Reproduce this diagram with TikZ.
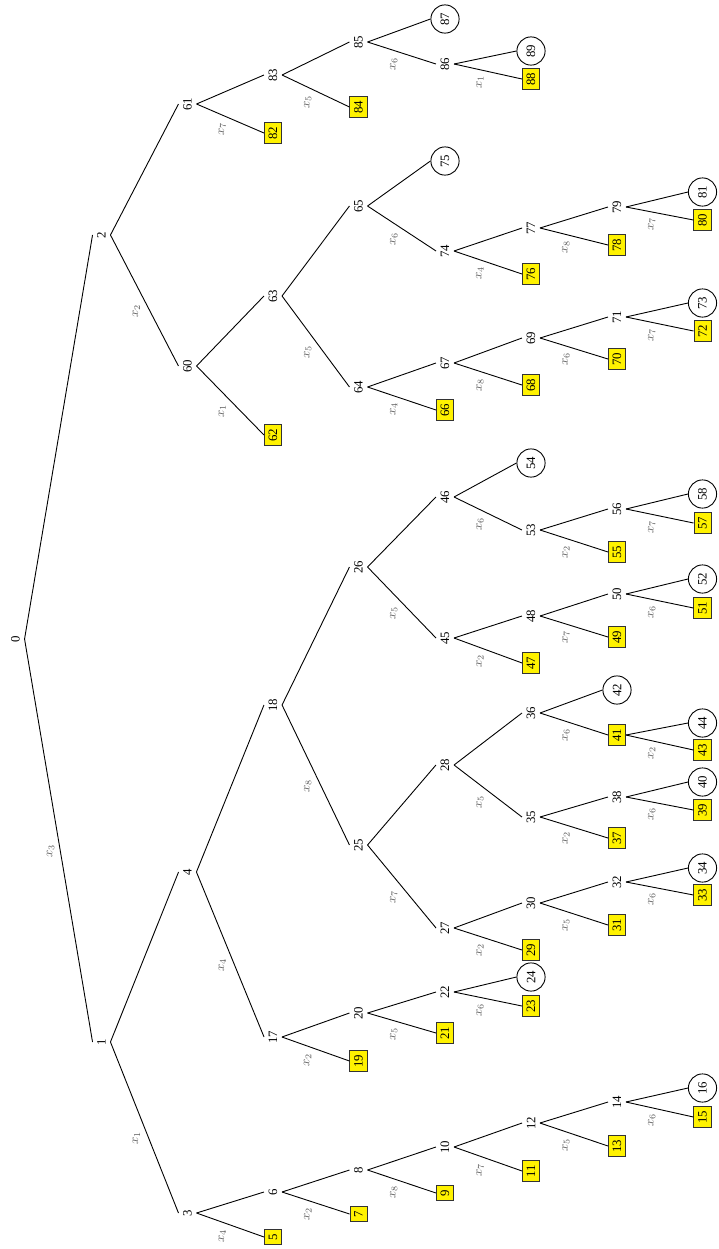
\documentclass[tikz,border=0pt]{standalone}
\usepackage{fontspec}
\setmainfont{Liberation Serif}
\begin{document}
\begin{tikzpicture}[x=0.78pt,y=-0.78pt,line width=0.7pt,
 vtx/.style={rotate=90},
 sq/.style={rotate=90,draw=black!80,fill=yellow},
 rd/.style={rotate=90,draw,circle,minimum size=22pt,inner sep=1pt},
 lbl/.style={rotate=90,above left,inner sep=3pt,text=black!65}]
\useasboundingbox (0,0) rectangle (718,1249);
\node[vtx] (n0) at(15.5,639){0};
\node[vtx] (n1) at(101.5,1042){1};\node[vtx] (n2) at(101.5,235){2};
\node[vtx] (n3) at(187.5,1213){3};\node[vtx] (n4) at(187.5,872){4};
\node[vtx] (n60) at(187.5,366){60};\node[vtx] (n61) at(187.5,104){61};
\node[sq] (n5) at(273,1237){5};\node[vtx] (n6) at(273,1192){6};
\node[vtx] (n17) at(273,1037){17};\node[vtx] (n18) at(273,705){18};
\node[sq] (n62) at(273,435){62};\node[vtx] (n63) at(273,296){63};
\node[sq] (n82) at(273,133){82};\node[vtx] (n83) at(273,75){83};
\node[sq] (n7) at(358.5,1214){7};\node[vtx] (n8) at(358.5,1170){8};
\node[sq] (n19) at(358.5,1061){19};\node[vtx] (n20) at(358.5,1013){20};
\node[vtx] (n25) at(358.5,845){25};\node[vtx] (n26) at(358.5,567){26};
\node[vtx] (n64) at(358.5,387){64};\node[vtx] (n65) at(358.5,206){65};
\node[sq] (n84) at(358.5,107){84};\node[vtx] (n85) at(358.5,42){85};
\node[sq] (n9) at(445,1193){9};\node[vtx] (n10) at(445,1147){10};
\node[sq] (n21) at(445,1033){21};\node[vtx] (n22) at(445,992){22};
\node[vtx] (n27) at(445,928){27};\node[vtx] (n28) at(445,765){28};
\node[vtx] (n45) at(445,638){45};\node[vtx] (n46) at(445,497){46};
\node[sq] (n66) at(445,410){66};\node[vtx] (n67) at(445,363){67};
\node[vtx] (n74) at(445,251){74};\node[rd] (n75) at(445,161){75};
\node[vtx] (n86) at(445,64){86};\node[rd] (n87) at(445,19){87};
\node[sq] (n11) at(531,1171){11};\node[vtx] (n12) at(531,1123){12};
\node[sq] (n23) at(531,1006){23};\node[rd] (n24) at(531,977){24};
\node[sq] (n29) at(531,950){29};\node[vtx] (n30) at(531,903){30};
\node[vtx] (n35) at(531,817){35};\node[vtx] (n36) at(531,713){36};
\node[sq] (n47) at(531,663){47};\node[vtx] (n48) at(531,616){48};
\node[vtx] (n53) at(531,530){53};\node[rd] (n54) at(531,463){54};
\node[sq] (n68) at(531,385){68};\node[vtx] (n69) at(531,338){69};
\node[sq] (n76) at(531,274){76};\node[vtx] (n77) at(531,228){77};
\node[sq] (n88) at(531,79){88};\node[rd] (n89) at(531,51){89};
\node[sq] (n13) at(617,1146){13};\node[vtx] (n14) at(617,1102){14};
\node[sq] (n31) at(617,925){31};\node[vtx] (n32) at(617,882){32};
\node[sq] (n37) at(617,838){37};\node[vtx] (n38) at(617,797){38};
\node[sq] (n41) at(617,735){41};\node[rd] (n42) at(617,690){42};
\node[sq] (n49) at(617,637){49};\node[vtx] (n50) at(617,594){50};
\node[sq] (n55) at(617,552){55};\node[vtx] (n56) at(617,509){56};
\node[sq] (n70) at(617,359){70};\node[vtx] (n71) at(617,317){71};
\node[sq] (n78) at(617,245){78};\node[vtx] (n79) at(617,207){79};
\node[sq] (n15) at(702.5,1117){15};\node[rd] (n16) at(702.5,1088){16};
\node[sq] (n33) at(702.5,895){33};\node[rd] (n34) at(702.5,868){34};
\node[sq] (n39) at(702.5,810){39};\node[rd] (n40) at(702.5,782){40};
\node[sq] (n43) at(702.5,750){43};\node[rd] (n44) at(702.5,723){44};
\node[sq] (n51) at(702.5,608){51};\node[rd] (n52) at(702.5,579){52};
\node[sq] (n57) at(702.5,523){57};\node[rd] (n58) at(702.5,494){58};
\node[sq] (n72) at(702.5,331){72};\node[rd] (n73) at(702.5,303){73};
\node[sq] (n80) at(702.5,220){80};\node[rd] (n81) at(702.5,192){81};
\draw(n0.south)--node[lbl]{$x_3$}(n1.north);\draw(n0.south)--(n2.north);
\draw(n1.south)--node[lbl]{$x_1$}(n3.north);\draw(n1.south)--(n4.north);
\draw(n3.south)--node[lbl]{$x_4$}(n5.north);\draw(n3.south)--(n6.north);
\draw(n6.south)--node[lbl]{$x_2$}(n7.north);\draw(n6.south)--(n8.north);
\draw(n8.south)--node[lbl]{$x_8$}(n9.north);\draw(n8.south)--(n10.north);
\draw(n10.south)--node[lbl]{$x_7$}(n11.north);\draw(n10.south)--(n12.north);
\draw(n12.south)--node[lbl]{$x_5$}(n13.north);\draw(n12.south)--(n14.north);
\draw(n14.south)--node[lbl]{$x_6$}(n15.north);\draw(n14.south)--(n16.north);
\draw(n4.south)--node[lbl]{$x_4$}(n17.north);\draw(n4.south)--(n18.north);
\draw(n17.south)--node[lbl]{$x_2$}(n19.north);\draw(n17.south)--(n20.north);
\draw(n20.south)--node[lbl]{$x_5$}(n21.north);\draw(n20.south)--(n22.north);
\draw(n22.south)--node[lbl]{$x_6$}(n23.north);\draw(n22.south)--(n24.north);
\draw(n18.south)--node[lbl]{$x_8$}(n25.north);\draw(n18.south)--(n26.north);
\draw(n25.south)--node[lbl]{$x_7$}(n27.north);\draw(n25.south)--(n28.north);
\draw(n27.south)--node[lbl]{$x_2$}(n29.north);\draw(n27.south)--(n30.north);
\draw(n30.south)--node[lbl]{$x_5$}(n31.north);\draw(n30.south)--(n32.north);
\draw(n32.south)--node[lbl]{$x_6$}(n33.north);\draw(n32.south)--(n34.north);
\draw(n28.south)--node[lbl]{$x_5$}(n35.north);\draw(n28.south)--(n36.north);
\draw(n35.south)--node[lbl]{$x_2$}(n37.north);\draw(n35.south)--(n38.north);
\draw(n38.south)--node[lbl]{$x_6$}(n39.north);\draw(n38.south)--(n40.north);
\draw(n36.south)--node[lbl]{$x_6$}(n41.north);\draw(n36.south)--(n42.north);
\draw(n41.south)--node[lbl]{$x_2$}(n43.north);\draw(n41.south)--(n44.north);
\draw(n26.south)--node[lbl]{$x_5$}(n45.north);\draw(n26.south)--(n46.north);
\draw(n45.south)--node[lbl]{$x_2$}(n47.north);\draw(n45.south)--(n48.north);
\draw(n48.south)--node[lbl]{$x_7$}(n49.north);\draw(n48.south)--(n50.north);
\draw(n50.south)--node[lbl]{$x_6$}(n51.north);\draw(n50.south)--(n52.north);
\draw(n46.south)--node[lbl]{$x_6$}(n53.north);\draw(n46.south)--(n54.north);
\draw(n53.south)--node[lbl]{$x_2$}(n55.north);\draw(n53.south)--(n56.north);
\draw(n56.south)--node[lbl]{$x_7$}(n57.north);\draw(n56.south)--(n58.north);
\draw(n2.south)--node[lbl]{$x_2$}(n60.north);\draw(n2.south)--(n61.north);
\draw(n60.south)--node[lbl]{$x_1$}(n62.north);\draw(n60.south)--(n63.north);
\draw(n63.south)--node[lbl]{$x_5$}(n64.north);\draw(n63.south)--(n65.north);
\draw(n64.south)--node[lbl]{$x_4$}(n66.north);\draw(n64.south)--(n67.north);
\draw(n67.south)--node[lbl]{$x_8$}(n68.north);\draw(n67.south)--(n69.north);
\draw(n69.south)--node[lbl]{$x_6$}(n70.north);\draw(n69.south)--(n71.north);
\draw(n71.south)--node[lbl]{$x_7$}(n72.north);\draw(n71.south)--(n73.north);
\draw(n65.south)--node[lbl]{$x_6$}(n74.north);\draw(n65.south)--(n75.north);
\draw(n74.south)--node[lbl]{$x_4$}(n76.north);\draw(n74.south)--(n77.north);
\draw(n77.south)--node[lbl]{$x_8$}(n78.north);\draw(n77.south)--(n79.north);
\draw(n79.south)--node[lbl]{$x_7$}(n80.north);\draw(n79.south)--(n81.north);
\draw(n61.south)--node[lbl]{$x_7$}(n82.north);\draw(n61.south)--(n83.north);
\draw(n83.south)--node[lbl]{$x_5$}(n84.north);\draw(n83.south)--(n85.north);
\draw(n85.south)--node[lbl]{$x_6$}(n86.north);\draw(n85.south)--(n87.north);
\draw(n86.south)--node[lbl]{$x_1$}(n88.north);\draw(n86.south)--(n89.north);
\end{tikzpicture}
\end{document}
